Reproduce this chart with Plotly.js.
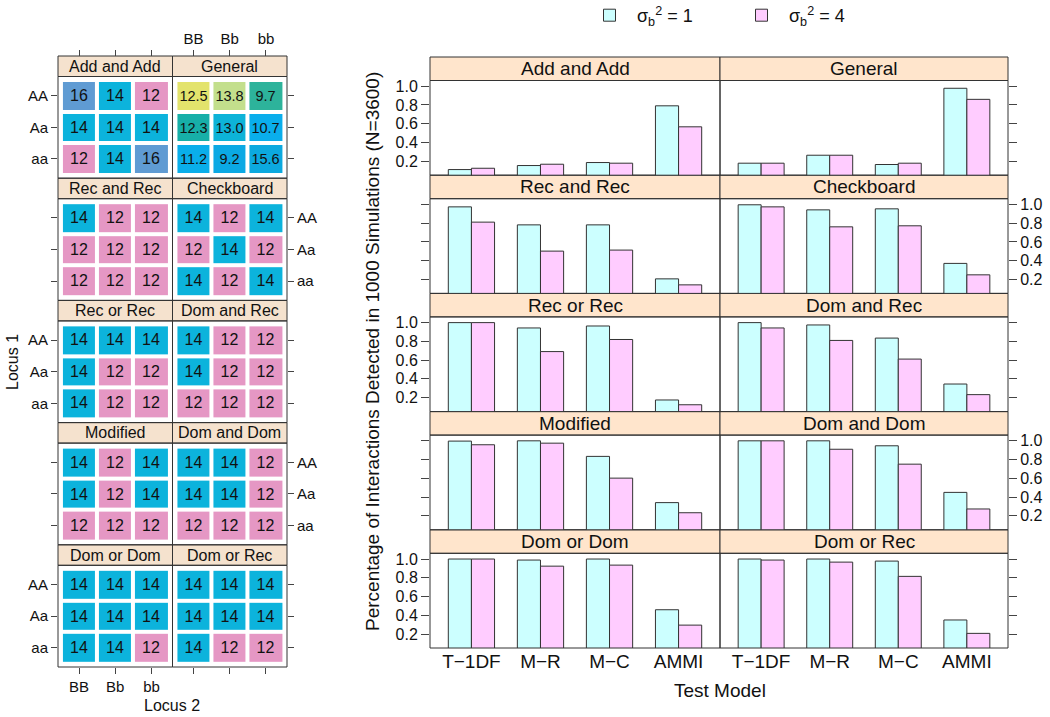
<!DOCTYPE html>
<html><head><meta charset="utf-8">
<script src="https://cdn.plot.ly/plotly-3.0.1.min.js"></script>
<style>html,body{margin:0;padding:0;background:#fff}</style>
</head><body><div id="chart" style="width:1050px;height:717px"></div>
<script>
// ================= DATA =================
// Right chart: power (fraction of interactions detected) per test model
const testModels = ["T\u22121DF", "M\u2212R", "M\u2212C", "AMMI"];
const panelNames = ["Add and Add", "General", "Rec and Rec", "Checkboard", "Rec or Rec",
                    "Dom and Rec", "Modified", "Dom and Dom", "Dom or Dom", "Dom or Rec"];
const seriesNames = ["\u03c3<sub>b</sub><sup>2</sup> = 1", "\u03c3<sub>b</sub><sup>2</sup> = 4"];

const addAdd_s1 = [0.111, 0.154, 0.186, 0.791];
const addAdd_s4 = [0.125, 0.168, 0.179, 0.567];
const general_s1 = [0.179, 0.264, 0.165, 0.978];
const general_s4 = [0.179, 0.264, 0.179, 0.860];
const recAndRec_s1 = [0.974, 0.782, 0.782, 0.206];
const recAndRec_s4 = [0.811, 0.502, 0.513, 0.142];
const checkboard_s1 = [0.996, 0.942, 0.953, 0.371];
const checkboard_s4 = [0.974, 0.761, 0.772, 0.249];
const recOrRec_s1 = [1.000, 0.943, 0.964, 0.175];
const recOrRec_s4 = [1.000, 0.691, 0.820, 0.124];
const domAndRec_s1 = [1.000, 0.975, 0.835, 0.345];
const domAndRec_s4 = [0.943, 0.810, 0.611, 0.232];
const modified_s1 = [0.997, 1.000, 0.834, 0.341];
const modified_s4 = [0.958, 0.975, 0.602, 0.233];
const domAndDom_s1 = [1.000, 1.000, 0.947, 0.450];
const domAndDom_s4 = [1.000, 0.910, 0.751, 0.273];
const domOrDom_s1 = [1.000, 0.989, 1.000, 0.459];
const domOrDom_s4 = [1.000, 0.924, 0.935, 0.295];
const domOrRec_s1 = [1.000, 1.000, 0.978, 0.350];
const domOrRec_s4 = [0.989, 0.967, 0.815, 0.207];

const powerS1 = [addAdd_s1, general_s1, recAndRec_s1, checkboard_s1, recOrRec_s1,
                 domAndRec_s1, modified_s1, domAndDom_s1, domOrDom_s1, domOrRec_s1];
const powerS4 = [addAdd_s4, general_s4, recAndRec_s4, checkboard_s4, recOrRec_s4,
                 domAndRec_s4, modified_s4, domAndDom_s4, domOrDom_s4, domOrRec_s4];
const powerTicks = [0.2, 0.4, 0.6, 0.8, 1.0];

// Left chart: genotype values (rows AA, Aa, aa; columns BB, Bb, bb)
const locus1Labels = ["AA", "Aa", "aa"];
const locus2Labels = ["BB", "Bb", "bb"];
const addAndAddCells = [16, 14, 12, 14, 14, 14, 12, 14, 16];
const generalCells = [12.5, 13.8, 9.7, 12.3, 13.0, 10.7, 11.2, 9.2, 15.6];
const recAndRecCells = [14, 12, 12, 12, 12, 12, 12, 12, 12];
const checkboardCells = [14, 12, 14, 12, 14, 12, 14, 12, 14];
const recOrRecCells = [14, 14, 14, 14, 12, 12, 14, 12, 12];
const domAndRecCells = [14, 12, 12, 14, 12, 12, 12, 12, 12];
const modifiedCells = [14, 12, 14, 14, 12, 14, 12, 12, 12];
const domAndDomCells = [14, 14, 12, 14, 14, 12, 12, 12, 12];
const domOrDomCells = [14, 14, 14, 14, 14, 14, 14, 14, 12];
const domOrRecCells = [14, 14, 14, 14, 14, 14, 14, 12, 12];
const cellPatterns = [addAndAddCells, generalCells, recAndRecCells, checkboardCells, recOrRecCells,
                      domAndRecCells, modifiedCells, domAndDomCells, domOrDomCells, domOrRecCells];

// ================= STYLE =================
const W = 1050, H = 717;
const FONT = "Liberation Sans, Arial, Helvetica, sans-serif";
const barColors = ["#ccffff", "#ffccff"];
const stripRight = "#ffe5cc", stripLeft = "#f5e2ce";
const frameColor = "#333333";
const valueColor = {16: "#5f9bd3", 14: "#0cb3dc", 12: "#e597c4"};
const generalColorByValue = {12.5: "#e3e36c", 13.8: "#c3df8c", 9.7: "#2db39b", 12.3: "#17afa8",
                             13.0: "#0db3d8", 10.7: "#0aaeec", 11.2: "#0aaeea", 9.2: "#0ba9e4", 15.6: "#0ca9df"};

// geometry (pixels)
const R_X = [430, 720, 1008], R_TOP = 57, R_ROW = 118.2, R_STRIP = 23.5;
const L_X = [58, 172.5, 287], L_TOP = 56, L_ROW = 122.2, L_STRIP = 20.5;

const fx = px => px / W;
const fy = py => 1 - py / H;

const data = [];
const layout = {
  width: W, height: H,
  margin: {l: 0, r: 0, t: 0, b: 0, autoexpand: false},
  paper_bgcolor: "#fff", plot_bgcolor: "rgba(0,0,0,0)",
  font: {family: FONT, color: "#111", size: 16},
  barmode: "group", bargap: 0.33, bargroupgap: 0,
  showlegend: true,
  legend: {orientation: "h", x: fx(582), xanchor: "left", y: fy(-3), yanchor: "top",
           font: {size: 18, family: FONT, color: "#111"}, entrywidth: 92, entrywidthmode: "pixels",
           itemwidth: 45, bgcolor: "rgba(0,0,0,0)", itemclick: false, itemdoubleclick: false},
  shapes: [], annotations: []
};

// build colour list for heatmaps
const palette = [];
function colorIndex(c) { let i = palette.indexOf(c); if (i < 0) { palette.push(c); i = palette.length - 1; } return i; }
const cellColorIdx = cellPatterns.map((cells, p) =>
  cells.map(v => colorIndex(p === 1 ? generalColorByValue[v] : valueColor[v])));

function ann(x, y, text, size, extra) {
  return Object.assign({xref: "paper", yref: "paper", x: fx(x), y: fy(y), text: text, showarrow: false,
    xanchor: "center", yanchor: "middle", font: {size: size, family: FONT, color: "#111"}}, extra || {});
}

// ---------- Right chart ----------
for (let p = 0; p < 10; p++) {
  const row = Math.floor(p / 2), col = p % 2, n = p + 1;
  const top = R_TOP + row * R_ROW, pTop = top + R_STRIP, pBot = top + R_ROW;
  const x0 = R_X[col], x1 = R_X[col + 1];
  const labelSide = (col === 0 && row % 2 === 0) || (col === 1 && row % 2 === 1);
  layout["xaxis" + n] = {
    domain: [fx(x0), fx(x1)], anchor: "y" + n, type: "category",
    range: [-0.6, 3.6], showgrid: false, zeroline: false, showline: false,
    ticks: "", showticklabels: row === 4, tickfont: {size: 19, family: FONT, color: "#111"},
    fixedrange: true
  };
  layout["yaxis" + n] = {
    domain: [fy(pBot), fy(pTop)], anchor: "x" + n, range: [0.051, 1.061],
    tickvals: powerTicks, ticktext: powerTicks.map(v => v.toFixed(1)),
    side: col === 0 ? "left" : "right", ticks: "outside", ticklen: 8, tickwidth: 1, tickcolor: "#444",
    showticklabels: labelSide, tickfont: {size: 16, family: FONT, color: "#111"},
    showgrid: false, zeroline: false, showline: false, fixedrange: true
  };
  [powerS1, powerS4].forEach((ser, s) => {
    data.push({
      type: "bar", x: testModels, y: ser[p], name: seriesNames[s], legendgroup: "s" + s,
      showlegend: p === 0, xaxis: "x" + n, yaxis: "y" + n,
      marker: {color: barColors[s], line: {color: frameColor, width: 1}}, hoverinfo: "y"
    });
  });
  layout.shapes.push({type: "rect", xref: "paper", yref: "paper", x0: fx(x0), x1: fx(x1), y0: fy(pTop), y1: fy(top),
    fillcolor: stripRight, line: {color: frameColor, width: 1}, layer: "below"});
  layout.shapes.push({type: "rect", xref: "paper", yref: "paper", x0: fx(x0), x1: fx(x1), y0: fy(pBot), y1: fy(pTop),
    fillcolor: "rgba(0,0,0,0)", line: {color: frameColor, width: 1}, layer: "above"});
  layout.annotations.push(ann((x0 + x1) / 2, (top + pTop) / 2, panelNames[p], 19));
}

// ---------- Left chart ----------
const N = palette.length;
const colorscale = palette.map((c, i) => [N > 1 ? i / (N - 1) : 0, c]);
for (let p = 0; p < 10; p++) {
  const row = Math.floor(p / 2), col = p % 2, n = p + 11;
  const top = L_TOP + row * L_ROW, pTop = top + L_STRIP, pBot = top + L_ROW;
  const x0 = L_X[col], x1 = L_X[col + 1];
  const labelSide = (col === 0 && row % 2 === 0) || (col === 1 && row % 2 === 1);
  const xa = {
    domain: [fx(x0), fx(x1)], anchor: "y" + n, range: [0.42, 3.58],
    tickvals: [1, 2, 3], ticktext: locus2Labels, showgrid: false, zeroline: false, showline: false,
    ticks: "", showticklabels: false, tickfont: {size: 15, family: FONT, color: "#111"},
    ticklen: 6, tickcolor: "#444", fixedrange: true
  };
  if (row === 0) {
    Object.assign(xa, {anchor: "free", position: fy(L_TOP), side: "top", ticks: "outside", showticklabels: col === 1});
  } else if (row === 4) {
    Object.assign(xa, {side: "bottom", ticks: "outside", showticklabels: col === 0});
  }
  layout["xaxis" + n] = xa;
  layout["yaxis" + n] = {
    domain: [fy(pBot), fy(pTop)], anchor: "x" + n, range: [3.61, 0.39],
    tickvals: [1, 2, 3], ticktext: locus1Labels,
    side: col === 0 ? "left" : "right", ticks: "outside", ticklen: 6, tickcolor: "#444",
    showticklabels: labelSide, tickfont: {size: 15, family: FONT, color: "#111"},
    showgrid: false, zeroline: false, showline: false, fixedrange: true
  };
  const cells = cellPatterns[p], idx = cellColorIdx[p];
  const z = [0, 1, 2].map(r => [0, 1, 2].map(c => idx[r * 3 + c]));
  const txt = [0, 1, 2].map(r => [0, 1, 2].map(c => {
    const v = cells[r * 3 + c]; return p === 1 ? v.toFixed(1) : String(v);
  }));
  data.push({
    type: "heatmap", x: [1, 2, 3], y: [1, 2, 3], z: z, text: txt, texttemplate: "%{text}",
    textfont: {size: p === 1 ? 14.5 : 16, family: FONT, color: "#111"},
    colorscale: colorscale, zmin: 0, zmax: Math.max(N - 1, 1), showscale: false,
    xgap: 4, ygap: 4, xaxis: "x" + n, yaxis: "y" + n, hoverinfo: "text", showlegend: false
  });
  layout.shapes.push({type: "rect", xref: "paper", yref: "paper", x0: fx(x0), x1: fx(x1), y0: fy(pTop), y1: fy(top),
    fillcolor: stripLeft, line: {color: frameColor, width: 1}, layer: "below"});
  layout.shapes.push({type: "rect", xref: "paper", yref: "paper", x0: fx(x0), x1: fx(x1), y0: fy(pBot), y1: fy(pTop),
    fillcolor: "rgba(0,0,0,0)", line: {color: frameColor, width: 1}, layer: "above"});
  layout.annotations.push(ann((x0 + x1) / 2, (top + pTop) / 2, panelNames[p], 16));
}

// ---------- Titles ----------
layout.annotations.push(
  ann(373, 352, "Percentage of Interactions Detected in 1000 Simulations (N=3600)", 19, {textangle: -90}),
  ann(720, 690, "Test Model", 19),
  ann(12, 362, "Locus 1", 16, {textangle: -90}),
  ann(172, 705, "Locus 2", 16)
);

Plotly.newPlot("chart", data, layout, {displayModeBar: false});
</script>
</body></html>
